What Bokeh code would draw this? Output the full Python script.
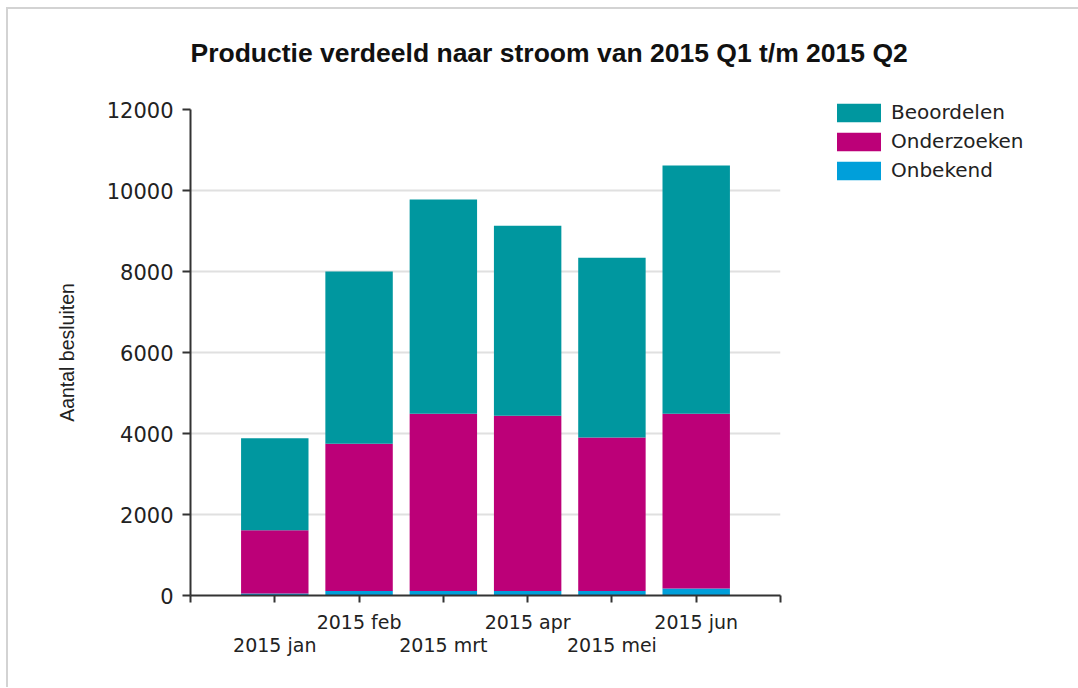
from bokeh.plotting import figure
from bokeh.models import (ColumnDataSource, LinearAxis, FixedTicker, Legend,
                          LegendItem, Range1d, Title)
from bokeh.embed import file_html
from bokeh.resources import INLINE

# ---- data ----
months = ["2015 jan", "2015 feb", "2015 mrt", "2015 apr", "2015 mei", "2015 jun"]
series = ["Onbekend", "Onderzoeken", "Beoordelen"]
onbekend = [50, 110, 110, 110, 110, 170]
onderzoeken = [1560, 3640, 4380, 4330, 3790, 4320]
beoordelen = [2270, 4250, 5290, 4690, 4440, 6130]
colors = {"Beoordelen": "#00979F", "Onderzoeken": "#BC0078", "Onbekend": "#009FDA"}
y_ticks = [0, 2000, 4000, 6000, 8000, 10000, 12000]

pos = list(range(1, len(months) + 1))
src = ColumnDataSource(dict(x=pos, Onbekend=onbekend, Onderzoeken=onderzoeken,
                            Beoordelen=beoordelen))

p = figure(width=1068, height=679, output_backend="svg", toolbar_location=None,
           x_range=Range1d(0, len(months) + 1), y_range=Range1d(0, 12000),
           frame_width=590, frame_height=486, min_border_left=182,
           min_border_top=100, min_border_right=296, min_border_bottom=92,
           x_axis_location=None, tools="",
           styles={"border-left": "2px solid #d3d3d3", "border-top": "2px solid #d3d3d3",
                   "margin-left": "6px", "margin-top": "7px"})
p.outline_line_color = None

# spacer between frame and title
spacer = Title(text=" ", text_font_size="1px", standoff=14)
p.add_layout(spacer, "above")

t = Title(text="Productie verdeeld naar stroom van 2015 Q1 t/m 2015 Q2",
          align="left", text_font="Liberation Sans", text_font_size="26.5px",
          text_font_style="bold", text_color="#111111", standoff=50)
p.add_layout(t, "above")

rs = p.vbar_stack(series, x="x", width=0.8, source=src,
                  color=[colors[s] for s in series], line_color=None)

# y axis
ya = p.yaxis[0]
ya.ticker = FixedTicker(ticks=y_ticks)
ya.minor_tick_line_color = None
ya.major_tick_in = 0
ya.major_tick_out = 8
ya.major_label_standoff = 9
ya.major_label_text_font = "DejaVu Sans"
ya.major_label_text_font_size = "21px"
ya.major_label_text_color = "#222222"
ya.axis_line_color = "#333333"
ya.axis_line_width = 2
ya.major_tick_line_color = "#333333"
ya.major_tick_line_width = 2
ya.axis_label = "Aantal besluiten"
ya.axis_label_text_font = "Liberation Sans"
ya.axis_label_text_font_size = "19.5px"
ya.axis_label_text_font_style = "normal"
ya.axis_label_text_color = "#222222"
ya.axis_label_standoff = 26

p.ygrid.ticker = FixedTicker(ticks=y_ticks)
p.ygrid.grid_line_color = "#e0e0e0"
p.ygrid.grid_line_width = 2
p.xgrid.grid_line_color = None

all_ticks = list(range(0, len(months) + 2))
upper = {i: "" for i in all_ticks}
lower = {i: "" for i in all_ticks}
for i, m in enumerate(months):
    if i % 2 == 1:
        upper[i + 1] = m
    else:
        lower[i + 1] = m

xa1 = LinearAxis(ticker=FixedTicker(ticks=all_ticks), major_label_overrides=upper)
xa1.minor_tick_line_color = None
xa1.major_tick_in = 0
xa1.major_tick_out = 7
xa1.major_label_standoff = 8
xa1.major_label_text_font = "DejaVu Sans"
xa1.major_label_text_font_size = "19px"
xa1.major_label_text_color = "#222222"
xa1.axis_line_color = "#333333"
xa1.axis_line_width = 2
xa1.major_tick_line_color = "#333333"
xa1.major_tick_line_width = 2
p.add_layout(xa1, "below")

xa2 = LinearAxis(ticker=FixedTicker(ticks=all_ticks), major_label_overrides=lower)
xa2.minor_tick_line_color = None
xa2.major_tick_in = 0
xa2.major_tick_out = 0
xa2.major_label_standoff = -2
xa2.major_label_text_font = "DejaVu Sans"
xa2.major_label_text_font_size = "19px"
xa2.major_label_text_color = "#222222"
xa2.axis_line_color = None
xa2.major_tick_line_color = None
p.add_layout(xa2, "below")

items = [LegendItem(label=s, renderers=[rs[series.index(s)]]) for s in ["Beoordelen", "Onderzoeken", "Onbekend"]]
leg = Legend(items=items, location=(51, 413), glyph_width=55, glyph_height=23,
             label_standoff=5, spacing=5, padding=0, margin=0,
             label_text_font="DejaVu Sans", label_text_font_size="20px",
             label_text_color="#222222", border_line_color=None,
             background_fill_alpha=0)
p.add_layout(leg, "right")

open("out.html", "w").write(file_html(p, INLINE))
